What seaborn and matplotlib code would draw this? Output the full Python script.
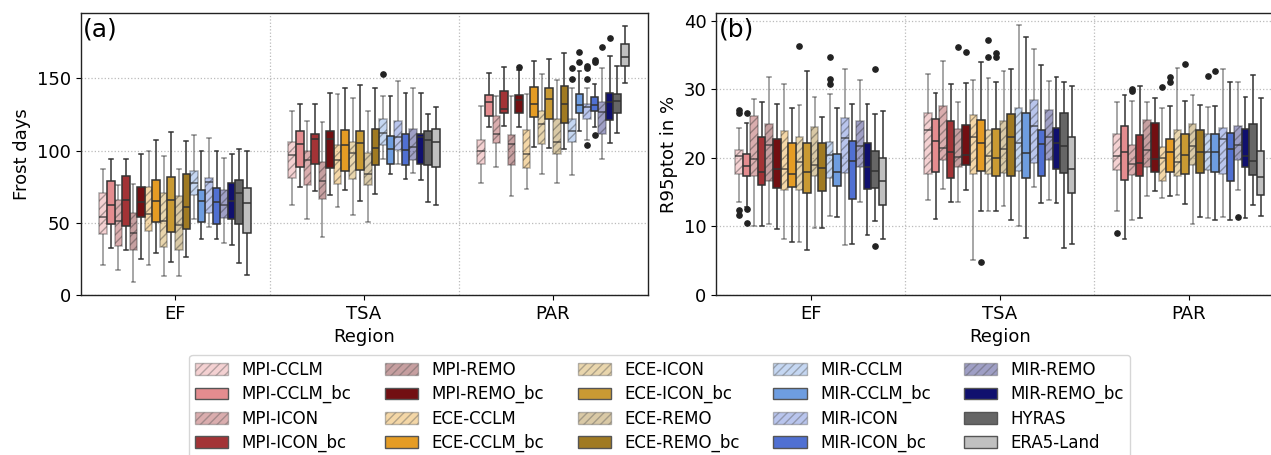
import numpy as np
import pandas as pd
import matplotlib
matplotlib.use("Agg")
import matplotlib.pyplot as plt
from matplotlib.patches import Patch
from matplotlib.ticker import FixedLocator
import seaborn as sns

REGIONS = ["EF", "TSA", "PAR"]
MODELS = ["MPI-CCLM", "MPI-CCLM_bc", "MPI-ICON", "MPI-ICON_bc", "MPI-REMO", "MPI-REMO_bc",
          "ECE-CCLM", "ECE-CCLM_bc", "ECE-ICON", "ECE-ICON_bc", "ECE-REMO", "ECE-REMO_bc",
          "MIR-CCLM", "MIR-CCLM_bc", "MIR-ICON", "MIR-ICON_bc", "MIR-REMO", "MIR-REMO_bc",
          "HYRAS", "ERA5-Land"]
BASE_COLORS = ["#e48c8f", "#e48c8f", "#a33336", "#a33336", "#720f12", "#720f12",
               "#e59c24", "#e59c24", "#c99a33", "#c99a33", "#a07a22", "#a07a22",
               "#6e9de0", "#6e9de0", "#5070d2", "#5070d2", "#10106e", "#10106e",
               "#666666", "#c0c0c0"]
HATCHED = [m for m in MODELS if not m.endswith("_bc") and m not in ("HYRAS", "ERA5-Land")]

# ---------------- Panel (a): Frost days  (whisker-low, Q1, median, Q3, whisker-high) ----------------
FD_EF_LO  = [21, 32.6, 17, 31.2, 8.8, 24.8, 21.1, 28.9, 13, 22.7, 13.2, 26.1, 52.8, 39.1, 46.8, 38.7, 35.9, 34.7, 22.2, 13.9]
FD_EF_Q1  = [42.4, 49.3, 34, 48.1, 31.2, 53.9, 44.2, 50.9, 33.1, 43.7, 31.5, 45.8, 69, 50.5, 56.5, 49.5, 53.5, 52.8, 49.3, 43]
FD_EF_MED = [54, 62, 51.2, 65.5, 42.8, 64.1, 55.8, 64.8, 51.2, 65.5, 48.6, 60.9, 77.8, 64.8, 78, 64.1, 62.5, 64.8, 70.8, 63.6]
FD_EF_Q3  = [70.4, 78.7, 65.5, 82.2, 56.9, 74.8, 74.8, 79.9, 70.8, 81.7, 68.7, 84, 85.9, 72.7, 81.2, 74.3, 72.9, 77.8, 79.6, 74.3]
FD_EF_HI  = [87, 94.4, 76.4, 94.4, 77.1, 97.9, 99.5, 107.6, 96.1, 112.7, 87.3, 106.9, 111, 100, 108.8, 100, 95.1, 97.5, 101.2, 100]
FD_EF_FLIERS = {}

FD_TSA_LO  = [62.5, 74.5, 52.8, 72.2, 40.5, 69.2, 61.1, 72.9, 55.1, 65, 50.9, 70.1, 94.2, 83.6, 91, 80.1, 84.7, 79.4, 64.1, 62.3]
FD_TSA_Q1  = [81.2, 88.9, 75.9, 91, 66.2, 87.7, 76.6, 85.6, 80.1, 86.8, 76.4, 90, 103.7, 90.7, 100.2, 89.8, 93.3, 91, 90.3, 88.7]
FD_TSA_MED = [97.2, 104.9, 93.7, 107.9, 78.7, 108.3, 93.3, 104.2, 98.6, 105.3, 83.6, 101.6, 112.3, 101.4, 109.5, 100.2, 102.5, 109.5, 107.2, 106.2]
FD_TSA_Q3  = [106, 113.4, 99.8, 111.8, 92.1, 113.7, 103.9, 114.3, 106, 113.7, 98.4, 115.3, 122, 110.2, 120.6, 111.3, 115.3, 111.8, 113.7, 115]
FD_TSA_HI  = [127.3, 132.2, 120.8, 132.2, 119.9, 139.6, 138.9, 143.1, 136.6, 145.6, 127.3, 143.3, 137.7, 138, 147.9, 139.6, 143.5, 139.6, 125.5, 130.1]
FD_TSA_FLIERS = {12: [152.8]}

FD_PAR_LO  = [77.5, 116.4, 88.7, 116.7, 68.3, 116.4, 73.4, 102.5, 83.8, 102.1, 77.3, 101.4, 82.9, 113.9, 107.6, 116.5, 94.4, 105.1, 112.3, 147]
FD_PAR_Q1  = [90.7, 124.3, 105.6, 125.7, 90.3, 125.7, 88.2, 123.6, 104.6, 122.2, 97.7, 119.4, 106, 126.2, 122, 127.1, 111.8, 121.5, 125.7, 158.6]
FD_PAR_MED = [100, 133.6, 111.3, 128.7, 104.4, 135, 97.7, 132.2, 118.7, 135.4, 106, 132.2, 113.7, 131.9, 130.3, 131.9, 126.4, 133.8, 134.7, 165]
FD_PAR_Q3  = [107.2, 138.4, 123.8, 141.4, 111.1, 138.4, 114.6, 144, 127.5, 143.3, 122.2, 144.9, 122, 138.9, 132.6, 137.3, 133.8, 140, 139.1, 173.8]
FD_PAR_HI  = [131.2, 153.9, 137.5, 157.9, 137.5, 155.6, 139.4, 162.3, 152.8, 163.4, 148.8, 167.6, 143.7, 155.1, 143.5, 146, 156.9, 165.7, 158.8, 186.3]
FD_PAR_FLIERS = {5: [158.1], 12: [157.4, 149.8], 13: [168.5, 161.3], 14: [158.6, 157.4, 149.8, 104],
                 15: [163, 161.5, 111], 16: [172], 17: [178]}

# ---------------- Panel (b): R95ptot in % ----------------
R95_EF_LO  = [13.5, 12.8, 10.1, 10.1, 10.4, 9.6, 8.2, 7.7, 7.7, 6.6, 9.7, 9.8, 11.5, 11.3, 7.3, 7.4, 13.5, 8.7, 10.8, 8.2]
R95_EF_Q1  = [17.7, 17.4, 17.3, 16.1, 16.6, 15.6, 15.3, 15.8, 15.3, 14.9, 17.3, 15.1, 17, 15.9, 17.8, 14, 18.6, 15.5, 15.6, 13.1]
R95_EF_MED = [20.3, 18.8, 19.8, 17.9, 21.9, 18.3, 18.3, 17.6, 19.4, 17.9, 18.9, 18.5, 20.4, 17.9, 22.9, 19.5, 21.7, 18.6, 18.1, 16.6]
R95_EF_Q3  = [21.1, 20.5, 26.1, 23.1, 24.9, 22.7, 23.9, 22.2, 23.1, 22.1, 24.5, 22.1, 22.3, 20.6, 25.8, 22.4, 25.3, 22.2, 21, 19.9]
R95_EF_HI  = [24.3, 25, 28.6, 28.1, 31.8, 27.8, 30.7, 27.3, 27.7, 32.7, 28.9, 26, 29.3, 27.3, 33, 27.9, 31.3, 27.8, 26.4, 26.8]
R95_EF_FLIERS = {0: [26.9, 26.5, 12.4, 11.7], 1: [26.5, 12.5, 10.5], 8: [36.3],
                 12: [34.7, 31.5, 30.7], 18: [32.9, 7.2]}

R95_TSA_LO  = [13.8, 11.1, 15.4, 13.5, 13.5, 15.3, 5.1, 12.3, 12.3, 12.2, 12.9, 11, 10.1, 8.3, 15.8, 13.4, 13.8, 13.4, 6.9, 7.4]
R95_TSA_Q1  = [17.7, 17.9, 19.7, 17, 18.6, 18.9, 17.7, 18, 17.6, 17.4, 17.8, 17.3, 18.1, 17.1, 19.2, 17.3, 19.7, 18.4, 17.8, 14.8]
R95_TSA_MED = [24, 22.4, 21.4, 20.8, 20.1, 20.4, 23.1, 22.2, 20.3, 19.9, 21.3, 23.1, 22.1, 20.7, 24.6, 22, 23, 22.1, 21.7, 18.4]
R95_TSA_Q3  = [26.5, 25.7, 27.6, 25.3, 24.2, 24.8, 26.2, 25.5, 24, 24.2, 25.4, 26.4, 27.3, 26.5, 28.4, 24.1, 27, 24.4, 26.5, 23]
R95_TSA_HI  = [32.2, 29.4, 34.1, 30.8, 28.2, 30.9, 31.3, 33.9, 31.6, 31, 32.6, 32.9, 39.3, 37.6, 35.9, 33.5, 31.2, 31.7, 31, 30.4]
R95_TSA_FLIERS = {4: [36.1], 5: [35.4], 7: [4.8], 8: [37.2, 34.7], 9: [35.3, 34.7]}

R95_PAR_LO  = [12.3, 8.1, 11, 11.2, 14.5, 15.1, 14.1, 14.4, 14.6, 13.2, 10.3, 11.4, 11.2, 11, 11.4, 11, 15.3, 11.2, 13.1, 11.5]
R95_PAR_Q1  = [18.2, 16.7, 17.5, 17.4, 18.7, 17.9, 16.6, 17.9, 17.3, 17.7, 19, 17.8, 18.2, 17.9, 17.7, 16.6, 19.7, 18.6, 17.5, 14.6]
R95_PAR_MED = [20.3, 20.9, 19.1, 19.3, 21.2, 19.8, 20, 20.8, 19.4, 20.4, 21.7, 20.8, 20.9, 20.8, 22.7, 21.3, 21.9, 20.3, 19.6, 17.2]
R95_PAR_Q3  = [23.4, 24.7, 21.9, 23.3, 25.5, 25, 21.5, 22.8, 24, 23.5, 24.9, 24.1, 23.5, 23.4, 24.4, 23.6, 24.6, 24.2, 24.9, 21]
R95_PAR_HI  = [28.1, 29.1, 28.3, 30.5, 28.1, 28.7, 27.2, 27.5, 33.1, 28.3, 29.1, 27.7, 27.4, 27.5, 32.9, 31.1, 31.1, 28.9, 32, 28.7]
R95_PAR_FLIERS = {0: [9.1], 2: [30, 29.8], 6: [30.3], 7: [31.7, 31], 9: [33.6], 12: [31.9], 13: [32.7], 16: [11.4]}

FD = {"EF": (FD_EF_LO, FD_EF_Q1, FD_EF_MED, FD_EF_Q3, FD_EF_HI, FD_EF_FLIERS),
      "TSA": (FD_TSA_LO, FD_TSA_Q1, FD_TSA_MED, FD_TSA_Q3, FD_TSA_HI, FD_TSA_FLIERS),
      "PAR": (FD_PAR_LO, FD_PAR_Q1, FD_PAR_MED, FD_PAR_Q3, FD_PAR_HI, FD_PAR_FLIERS)}
R95 = {"EF": (R95_EF_LO, R95_EF_Q1, R95_EF_MED, R95_EF_Q3, R95_EF_HI, R95_EF_FLIERS),
       "TSA": (R95_TSA_LO, R95_TSA_Q1, R95_TSA_MED, R95_TSA_Q3, R95_TSA_HI, R95_TSA_FLIERS),
       "PAR": (R95_PAR_LO, R95_PAR_Q1, R95_PAR_MED, R95_PAR_Q3, R95_PAR_HI, R95_PAR_FLIERS)}


def sample_from_summary(lo, q1, med, q3, hi, fliers):
    """Deterministic sample whose box-plot statistics equal the given summary."""
    low = sorted(f for f in fliers if f < q1)
    high = sorted(f for f in fliers if f > q3)
    p = max(len(low), len(high)) + 1
    lows = low + [lo] * (p - len(low))
    highs = [hi] * (p - len(high)) + high
    b = p + 1
    return lows + [q1] * b + [med] + [q3] * b + highs


def build_frame(stats):
    rows = []
    for reg in REGIONS:
        lo, q1, med, q3, hi, fl = stats[reg]
        for i, m in enumerate(MODELS):
            for v in sample_from_summary(lo[i], q1[i], med[i], q3[i], hi[i], fl.get(i, [])):
                rows.append((reg, m, v))
    return pd.DataFrame(rows, columns=["Region", "Model", "Value"])


PALETTE = dict(zip(MODELS, BASE_COLORS))
LINE = "#333333"

fig = plt.figure(figsize=(12.71, 4.55), dpi=100)
W, H = 1271, 455
ax1 = fig.add_axes([80.5 / W, 1 - 295 / H, 567 / W, 282 / H])
ax2 = fig.add_axes([716.3 / W, 1 - 295 / H, 567 / W, 282 / H])


def draw(ax, stats, ylabel, ylim, yticks, tag):
    df = build_frame(stats)
    is_h = df["Model"].isin(HATCHED)
    common = dict(x="Region", y="Value", hue="Model", order=REGIONS, hue_order=MODELS,
                  palette=PALETTE, saturation=1, dodge=True, width=0.8, gap=0,
                  linewidth=1.1, linecolor=LINE, legend=False, ax=ax,
                  flierprops=dict(marker="o", markersize=3.8, markerfacecolor="#222222",
                                  markeredgecolor="#222222"))
    sns.boxplot(data=df[is_h],
                boxprops=dict(alpha=0.4, hatch="////"),
                whiskerprops=dict(alpha=0.55), capprops=dict(alpha=0.55),
                medianprops=dict(alpha=0.8), **common)
    sns.boxplot(data=df[~is_h], **common)
    ax.set_ylim(*ylim)
    ax.set_yticks(yticks)
    ax.set_xlim(-0.5, 2.5)
    ax.set_xlabel("Region", fontsize=13)
    ax.set_ylabel(ylabel, fontsize=13)
    ax.tick_params(axis="both", labelsize=13)
    ax.xaxis.set_minor_locator(FixedLocator([0.5, 1.5]))
    ax.tick_params(axis="x", which="minor", length=0)
    ax.set_axisbelow(True)
    ax.yaxis.grid(True, which="major", linestyle=":", color="#bbbbbb", linewidth=0.9)
    ax.xaxis.grid(True, which="minor", linestyle=":", color="#bbbbbb", linewidth=0.9)
    ax.xaxis.grid(False, which="major")
    for s in ax.spines.values():
        s.set_color("#222222")
        s.set_linewidth(1.0)
    ax.text(0.004, 0.985, tag, transform=ax.transAxes, fontsize=18, va="top", ha="left")


draw(ax1, FD, "Frost days", (0, 195.3), [0, 50, 100, 150], "(a)")
draw(ax2, R95, "R95ptot in %", (0, 41.1), [0, 10, 20, 30, 40], "(b)")

handles = []
for m in MODELS:
    if m in HATCHED:
        handles.append(Patch(facecolor=PALETTE[m], edgecolor="#555555", alpha=0.4,
                             hatch="////", label=m))
    else:
        handles.append(Patch(facecolor=PALETTE[m], edgecolor="#555555", label=m))
fig.legend(handles=handles, ncol=5, loc="upper center", bbox_to_anchor=(0.519, 0.238),
           fontsize=12, frameon=True, labelspacing=0.38, borderpad=0.35)

fig.savefig("out.png", dpi=100)
